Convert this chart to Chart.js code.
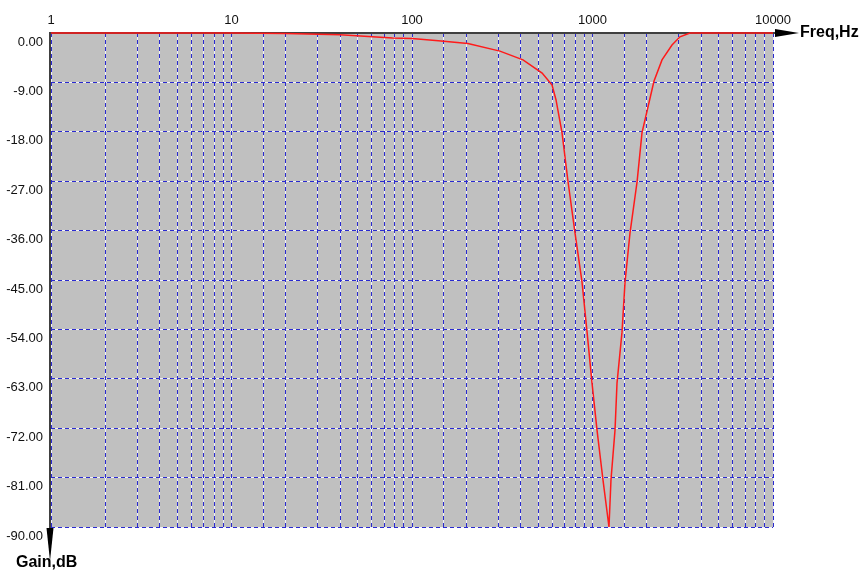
<!DOCTYPE html>
<html lang="en">
<head>
    <meta charset="UTF-8">
    <title>Notch filter response</title>
    <script src="https://cdn.jsdelivr.net/npm/chart.js"></script>
    <style>
        body {
            margin: 0;
            background: #ffffff;
        }
        #wrap {
            width: 864px;
            height: 572px;
        }
    </style>
</head>
<body>
    <div id="wrap">
        <canvas id="response" width="864" height="572"></canvas>
    </div>

    <script>
        // frequency (Hz) and gain (dB) of the measured response
        const freqs = [1, 10, 20, 40, 78, 100, 140, 204, 307, 412, 526, 597, 628, 678, 732, 800, 875, 933, 994, 1059, 1143, 1234,
                       1266, 1333, 1367, 1457, 1514, 1614, 1766, 1880, 2190, 2427, 2757, 3052, 3467, 10000];
        const gains = [0, -0.02, -0.1, -0.3, -0.9, -1.0, -1.4, -1.9, -3.3, -4.9, -7.3, -9.5, -12.2, -18.2, -27.1, -36.4, -45.4, -54.5, -63.8, -72.3, -81.4, -90,
                       -81.4, -72.3, -63.8, -54.5, -45.4, -36.4, -27.1, -18.2, -8.8, -4.9, -2.2, -0.7, 0, 0];

        const freqMin = 1;
        const freqMax = 10000;
        const gainMin = -90;
        const gainMax = 0;
        const gainStep = 9;

        const gridBlue = '#2a2ad0';
        const gridGap = '#f2f2fa';
        const axisColor = '#404040';
        const labelFont = { family: 'Liberation Sans', size: 13 };

        const points = freqs.map((f, i) => ({ x: f, y: gains[i] }));

        // gray plot background with light solid lines under the dashed grid
        const backPlugin = {
            id: 'back',
            beforeDraw(chart) {
                const { ctx, chartArea: a, scales } = chart;
                ctx.save();
                ctx.fillStyle = '#c0c0c0';
                ctx.fillRect(a.left, a.top, a.right - a.left, a.bottom - a.top);
                ctx.strokeStyle = gridGap;
                ctx.lineWidth = 1;
                ctx.beginPath();
                scales.x.ticks.forEach(t => {
                    const px = Math.round(scales.x.getPixelForValue(t.value) - 0.5) + 0.5;
                    ctx.moveTo(px, a.top);
                    ctx.lineTo(px, a.bottom);
                });
                scales.y.ticks.forEach(t => {
                    const py = Math.round(scales.y.getPixelForValue(t.value) - 0.5) + 0.5;
                    ctx.moveTo(a.left, py);
                    ctx.lineTo(a.right, py);
                });
                ctx.stroke();
                ctx.restore();
            }
        };

        // axis lines, arrows and axis names
        const framePlugin = {
            id: 'frame',
            beforeDatasetsDraw(chart) {
                const { ctx, chartArea: a } = chart;
                ctx.save();
                ctx.strokeStyle = axisColor;
                ctx.lineWidth = 2;
                ctx.beginPath();
                ctx.moveTo(a.left - 1, a.bottom + 4);
                ctx.lineTo(a.left - 1, a.top);
                ctx.lineTo(a.right + 4, a.top);
                ctx.stroke();
                ctx.restore();
            },
            afterDraw(chart) {
                const { ctx, chartArea: a } = chart;
                ctx.save();
                ctx.fillStyle = '#000000';

                ctx.beginPath();
                ctx.moveTo(a.right + 2, a.top - 4);
                ctx.lineTo(a.right + 26, a.top);
                ctx.lineTo(a.right + 2, a.top + 4);
                ctx.closePath();
                ctx.fill();

                ctx.beginPath();
                ctx.moveTo(a.left - 4.5, a.bottom + 1);
                ctx.lineTo(a.left + 2.5, a.bottom + 1);
                ctx.lineTo(a.left - 1, a.bottom + 34);
                ctx.closePath();
                ctx.fill();

                ctx.font = 'bold 16px "Liberation Sans"';
                ctx.textBaseline = 'middle';
                ctx.textAlign = 'left';
                ctx.fillText('Freq,Hz', a.right + 27, a.top);
                ctx.fillText('Gain,dB', 16, a.bottom + 36);
                ctx.restore();
            }
        };

        const isDecade = v => Math.abs(Math.log10(v) - Math.round(Math.log10(v))) < 1e-9;

        new Chart(document.getElementById('response'), {
            type: 'line',
            data: {
                datasets: [{
                    data: points,
                    borderColor: '#ff1a1a',
                    borderWidth: 1.5,
                    pointRadius: 0,
                    tension: 0,
                    clip: 3
                }]
            },
            options: {
                responsive: false,
                animation: false,
                layout: { padding: { left: 0, top: 0, right: 91, bottom: 45 } },
                plugins: { legend: { display: false }, tooltip: { enabled: false } },
                scales: {
                    x: {
                        type: 'logarithmic',
                        position: 'top',
                        min: freqMin,
                        max: freqMax,
                        border: { display: false, dash: [4, 3] },
                        grid: { color: gridBlue, lineWidth: 1, drawTicks: false },
                        ticks: {
                            autoSkip: false,
                            maxRotation: 0,
                            padding: 5,
                            color: '#111111',
                            font: labelFont,
                            callback: v => isDecade(v) ? String(v) : ''
                        },
                        afterFit: s => { s.height = 33; }
                    },
                    y: {
                        type: 'linear',
                        position: 'left',
                        min: gainMin,
                        max: gainMax,
                        border: { display: false, dash: [4, 3] },
                        grid: { color: gridBlue, lineWidth: 1, drawTicks: false },
                        ticks: {
                            stepSize: gainStep,
                            padding: 8,
                            labelOffset: 9,
                            color: '#111111',
                            font: labelFont,
                            callback: v => v.toFixed(2)
                        },
                        afterFit: s => { s.width = 51; }
                    }
                }
            },
            plugins: [backPlugin, framePlugin]
        });
    </script>
</body>
</html>
